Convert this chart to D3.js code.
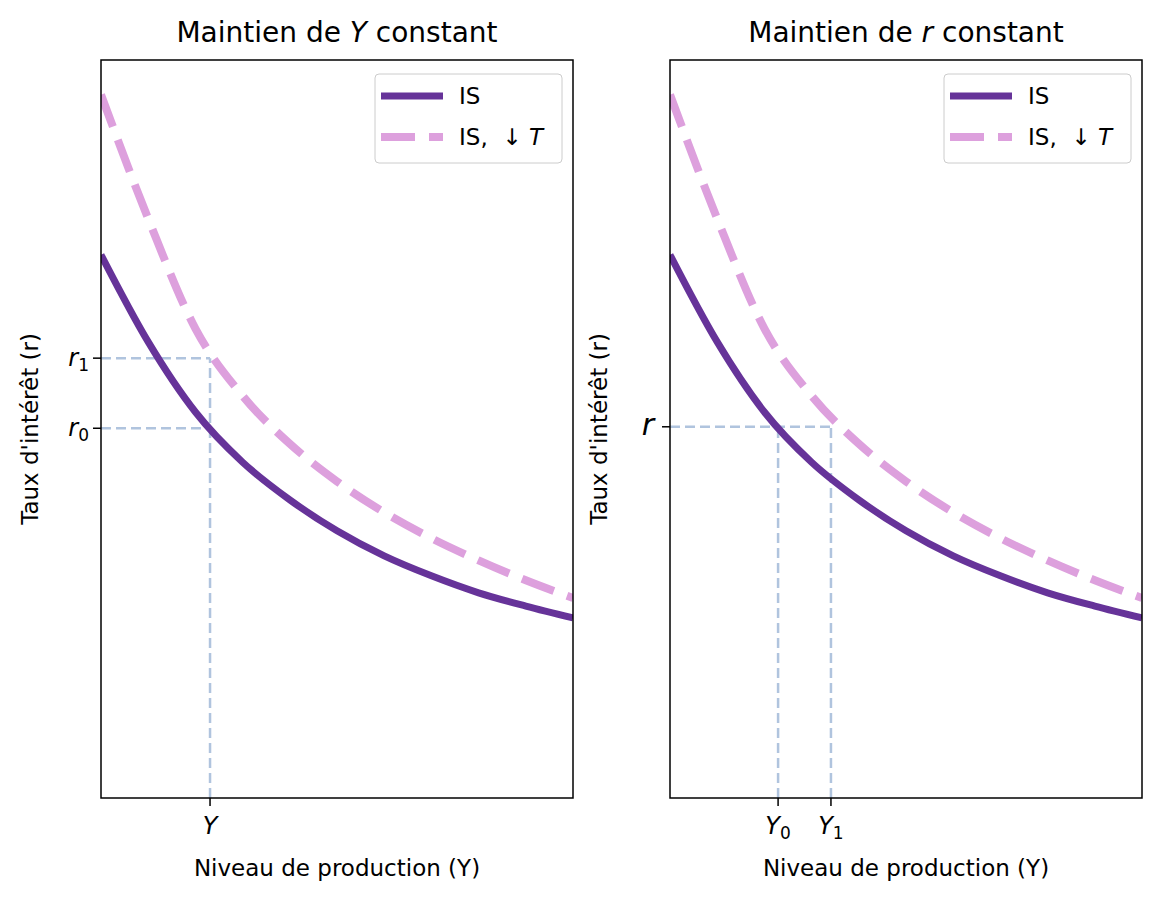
<!DOCTYPE html>
<html><head><meta charset="utf-8">
<script src="https://cdn.jsdelivr.net/npm/d3@7"></script>
<style>body{margin:0;background:#fff}text{font-family:"DejaVu Sans",sans-serif}</style>
</head><body>
<script>
// curve samples
var xs = [0,1,2,3,4,5,6,7,8,9,10];
var isBase = [7.36,6.18,5.23,4.55,4.04,3.62,3.28,3.01,2.78,2.60,2.44];
var isCut  = [9.53,7.85,6.36,5.45,4.80,4.29,3.87,3.52,3.22,2.95,2.71];
var leftY = 2.31, leftR0 = 5.01, leftR1 = 5.96;
var rightR = 5.03, rightY0 = 2.29, rightY1 = 3.41;

var svg = d3.select('body').append('svg').attr('width',1161).attr('height',902);

var panels = [
  {x0:101, title:['Maintien de ','Y',' constant'], hTicks:[[leftR0,'r','0'],[leftR1,'r','1']], vTicks:[[leftY,'Y','']]},
  {x0:670, title:['Maintien de ','r',' constant'], hTicks:[[rightR,'r','']], vTicks:[[rightY0,'Y','0'],[rightY1,'Y','1']]}
];

panels.forEach(function(p, k){
  var x = d3.scaleLinear().domain([0,10]).range([p.x0, p.x0+472]);
  var y = d3.scaleLinear().domain([0,10]).range([798,60]);
  var g = svg.append('g');
  g.append('defs').append('clipPath').attr('id','c'+k).append('rect')
    .attr('x',p.x0).attr('y',60).attr('width',472).attr('height',738);
  var line = d3.line().x(function(d){return x(d[0])}).y(function(d){return y(d[1])}).curve(d3.curveMonotoneX);
  var guide = '#b0c4de';

  // guide lines
  if (k === 0){
    g.append('line').attr('x1',x(0)).attr('x2',x(leftY)).attr('y1',y(leftR1)).attr('y2',y(leftR1));
    g.append('line').attr('x1',x(0)).attr('x2',x(leftY)).attr('y1',y(leftR0)).attr('y2',y(leftR0));
    g.append('line').attr('x1',x(leftY)).attr('x2',x(leftY)).attr('y1',y(0)).attr('y2',y(leftR1));
  } else {
    g.append('line').attr('x1',x(0)).attr('x2',x(rightY1)).attr('y1',y(rightR)).attr('y2',y(rightR));
    g.append('line').attr('x1',x(rightY0)).attr('x2',x(rightY0)).attr('y1',y(0)).attr('y2',y(rightR));
    g.append('line').attr('x1',x(rightY1)).attr('x2',x(rightY1)).attr('y1',y(0)).attr('y2',y(rightR));
  }
  g.selectAll('line').attr('stroke',guide).attr('stroke-width',2.5).attr('stroke-dasharray','10,5');

  g.append('path').datum(xs.map(function(v,i){return [v,isBase[i]]}))
    .attr('d',line).attr('fill','none').attr('stroke','#663399').attr('stroke-width',7)
    .attr('clip-path','url(#c'+k+')');
  g.append('path').datum(xs.map(function(v,i){return [v,isCut[i]]}))
    .attr('d',line).attr('fill','none').attr('stroke','#dda0dd').attr('stroke-width',8)
    .attr('stroke-dasharray','34,14').attr('clip-path','url(#c'+k+')');

  g.append('rect').attr('x',p.x0).attr('y',60).attr('width',472).attr('height',738)
    .attr('fill','none').attr('stroke','#000').attr('stroke-width',1.5);

  // ticks
  p.hTicks.forEach(function(t){
    g.append('line').attr('x1',p.x0-8).attr('x2',p.x0).attr('y1',y(t[0])).attr('y2',y(t[0])).attr('stroke','#000').attr('stroke-width',1.5);
    var tx = g.append('text').attr('x',p.x0-(t[2] ? 12 : 16)).attr('y',y(t[0])+8).attr('text-anchor','end')
      .attr('font-size', t[2] ? 24 : 30);
    tx.append('tspan').attr('font-style','italic').text(t[1]);
    if (t[2]) tx.append('tspan').attr('font-size',17).attr('dy',5).text(t[2]);
  });
  p.vTicks.forEach(function(t){
    g.append('line').attr('x1',x(t[0])).attr('x2',x(t[0])).attr('y1',798).attr('y2',806).attr('stroke','#000').attr('stroke-width',1.5);
    var tx = g.append('text').attr('x',x(t[0])).attr('y',834).attr('text-anchor','middle').attr('font-size',24);
    tx.append('tspan').attr('font-style','italic').text(t[1]);
    if (t[2]) tx.append('tspan').attr('font-size',17).attr('dy',5).text(t[2]);
  });

  // title & labels
  var tt = g.append('text').attr('x',p.x0+236).attr('y',42).attr('text-anchor','middle').attr('font-size',28);
  tt.append('tspan').text(p.title[0]);
  tt.append('tspan').attr('font-style','italic').text(p.title[1]);
  tt.append('tspan').text(p.title[2]);
  g.append('text').attr('x',p.x0+236).attr('y',876).attr('text-anchor','middle').attr('font-size',23).text('Niveau de production (Y)');
  g.append('text').attr('transform','translate('+(p.x0-63)+',429) rotate(-90)').attr('text-anchor','middle')
    .attr('font-size',23).text("Taux d'intérêt (r)");

  // legend
  var lx = p.x0+274;
  g.append('rect').attr('x',lx).attr('y',74).attr('width',187).attr('height',89).attr('rx',4)
    .attr('fill','#fff').attr('stroke','#ccc');
  g.append('line').attr('x1',lx+6).attr('x2',lx+68).attr('y1',96).attr('y2',96).attr('stroke','#663399').attr('stroke-width',7);
  g.append('line').attr('x1',lx+6).attr('x2',lx+68).attr('y1',137).attr('y2',137).attr('stroke','#dda0dd').attr('stroke-width',8).attr('stroke-dasharray','34,14');
  g.append('text').attr('x',lx+84).attr('y',104).attr('font-size',23).text('IS');
  var l2 = g.append('text').attr('x',lx+84).attr('y',145).attr('font-size',23).attr('xml:space','preserve');
  l2.append('tspan').text('IS,  ↓ ');
  l2.append('tspan').attr('font-style','italic').text('T');
});
</script>
</body></html>
